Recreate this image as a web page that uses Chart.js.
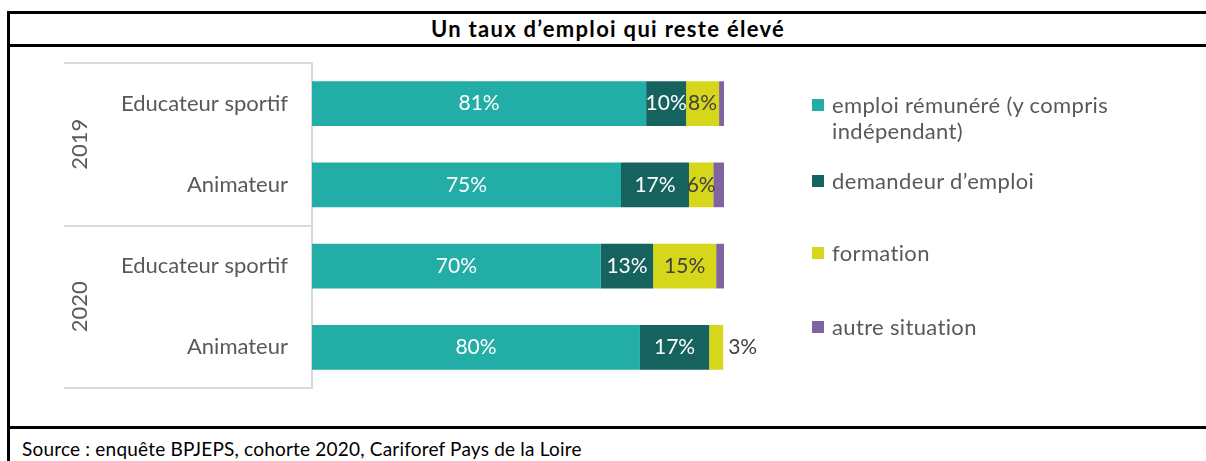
<!DOCTYPE html>
<html>
<head>
<meta charset="utf-8">
<script src="https://cdn.jsdelivr.net/npm/chart.js@4.4.1/dist/chart.umd.min.js"></script>
<style>
  body { margin:0; background:#fff; font-family:Lato, sans-serif; }
  #page { position:relative; width:1206px; height:461px; overflow:hidden; }
  .rule { position:absolute; background:#000; }
  #title { position:absolute; left:10px; right:0; top:14px; height:30px; line-height:30px;
           text-align:center; font-weight:bold; font-size:22px; letter-spacing:1.3px; color:#000; }
  #source { position:absolute; left:22px; top:436px; font-size:19px; letter-spacing:0.2px; color:#000; line-height:26px; }
  #chart { position:absolute; left:10px; top:47px; }
  .leg { position:absolute; left:812px; font-size:22px; letter-spacing:0.35px; color:#595959; line-height:26px; }
  .leg span.box { position:absolute; left:0; top:7px; width:12px; height:12px; }
  .leg span.txt { display:block; margin-left:20px; width:300px; }
</style>
</head>
<body>
<div id="page">
  <div class="rule" style="left:7px;top:11px;width:3px;height:450px"></div>
  <div class="rule" style="left:7px;top:11px;right:0;height:3px"></div>
  <div class="rule" style="left:7px;top:44px;right:0;height:3px"></div>
  <div class="rule" style="left:7px;top:426px;right:0;height:3px"></div>
  <div id="title">Un taux d’emploi qui reste élevé</div>
  <canvas id="chart" width="1196" height="379"></canvas>
  <div id="legend"></div>
  <div id="source">Source : enquête BPJEPS, cohorte 2020, Cariforef Pays de la Loire</div>
</div>
<script>
(function(){
	var categories = ['Educateur sportif', 'Animateur', 'Educateur sportif', 'Animateur'];
	var years = ['2019', '2020'];
	var series = ['emploi rémunéré (y compris indépendant)', 'demandeur d’emploi', 'formation', 'autre situation'];

	// shares in % (labels are rounded)
	var emploi = [81.1, 75.0, 70.1, 79.6];
	var demandeur = [9.7, 16.5, 12.7, 16.8];
	var formation = [8.0, 5.9, 15.3, 3.4];
	var autre = [1.2, 2.6, 1.9, 0];

	var colors = ['#22ADA6', '#15625F', '#D6D61A', '#8064A2'];
	var labelColors = ['#ffffff', '#ffffff', '#404040', null];
	var legendTops = [92, 168, 240, 314];

	// group lines + year labels on the left
	var groups = {
		id: 'groups',
		afterDraw: function(chart){
			var ctx = chart.ctx;
			var y = chart.scales.y;
			var left = 54, right = chart.chartArea.left;
			ctx.save();
			ctx.strokeStyle = '#d9d9d9';
			ctx.lineWidth = 2;
			[-0.5, 1.5, 3.5].forEach(function(v){
				var py = Math.round(y.getPixelForValue(v));
				ctx.beginPath();
				ctx.moveTo(left, py);
				ctx.lineTo(right, py);
				ctx.stroke();
			});
			ctx.fillStyle = '#595959';
			ctx.font = '22px Lato';
			ctx.textAlign = 'center';
			ctx.textBaseline = 'middle';
			years.forEach(function(yr, i){
				var cy = (y.getPixelForValue(i * 2 - 0.5) + y.getPixelForValue(i * 2 + 1.5)) / 2;
				ctx.save();
				ctx.translate(70, cy);
				ctx.rotate(-Math.PI / 2);
				ctx.fillText(yr, 0, 0);
				ctx.restore();
			});
			ctx.restore();
		}
	};

	// percent labels on the bars
	var valueLabels = {
		id: 'valueLabels',
		afterDatasetsDraw: function(chart){
			var ctx = chart.ctx;
			var last = chart.getDatasetMeta(chart.data.datasets.length - 1);
			ctx.save();
			ctx.font = '21px Lato';
			ctx.textBaseline = 'middle';
			chart.data.datasets.forEach(function(ds, i){
				if(!labelColors[i]) return;
				chart.getDatasetMeta(i).data.forEach(function(bar, j){
					var v = ds.data[j];
					if(!v) return;
					var txt = Math.round(v) + '%';
					if(v < 5){
						ctx.fillStyle = '#404040';
						ctx.textAlign = 'left';
						ctx.fillText(txt, last.data[j].x + 5, bar.y);
					} else {
						ctx.fillStyle = labelColors[i];
						ctx.textAlign = 'center';
						ctx.fillText(txt, (bar.x + bar.base) / 2, bar.y);
					}
				});
			});
			ctx.restore();
		}
	};

	var values = [emploi, demandeur, formation, autre];
	var datasets = series.map(function(name, i){
		return {
			label: name,
			data: values[i],
			backgroundColor: colors[i],
			borderWidth: 0,
			categoryPercentage: 1,
			barPercentage: 0.55
		};
	});

	new Chart(document.getElementById('chart').getContext('2d'), {
		type: 'bar',
		data: { labels: categories, datasets: datasets },
		options: {
			indexAxis: 'y',
			responsive: false,
			animation: false,
			layout: { padding: { left: 0, right: 482, top: 16, bottom: 38 } },
			plugins: { legend: { display: false }, tooltip: { enabled: false } },
			scales: {
				x: { stacked: true, min: 0, max: 100, display: false },
				y: {
					stacked: true,
					grid: { display: false, drawTicks: false },
					border: { display: true, color: '#d9d9d9', width: 2 },
					ticks: { color: '#595959', font: { family: 'Lato', size: 22 }, padding: 24 },
					afterFit: function(scale){
						scale.width = 302;
						scale.paddingTop = 0;
						scale.paddingBottom = 0;
					}
				}
			}
		},
		plugins: [groups, valueLabels]
	});

	// html legend
	var legend = document.getElementById('legend');
	series.forEach(function(name, i){
		var d = document.createElement('div');
		d.className = 'leg';
		d.style.top = legendTops[i] + 'px';
		d.innerHTML = '<span class="box" style="background:' + colors[i] + '"></span><span class="txt"></span>';
		d.querySelector('.txt').textContent = name;
		legend.appendChild(d);
	});
})();
</script>
</body>
</html>
